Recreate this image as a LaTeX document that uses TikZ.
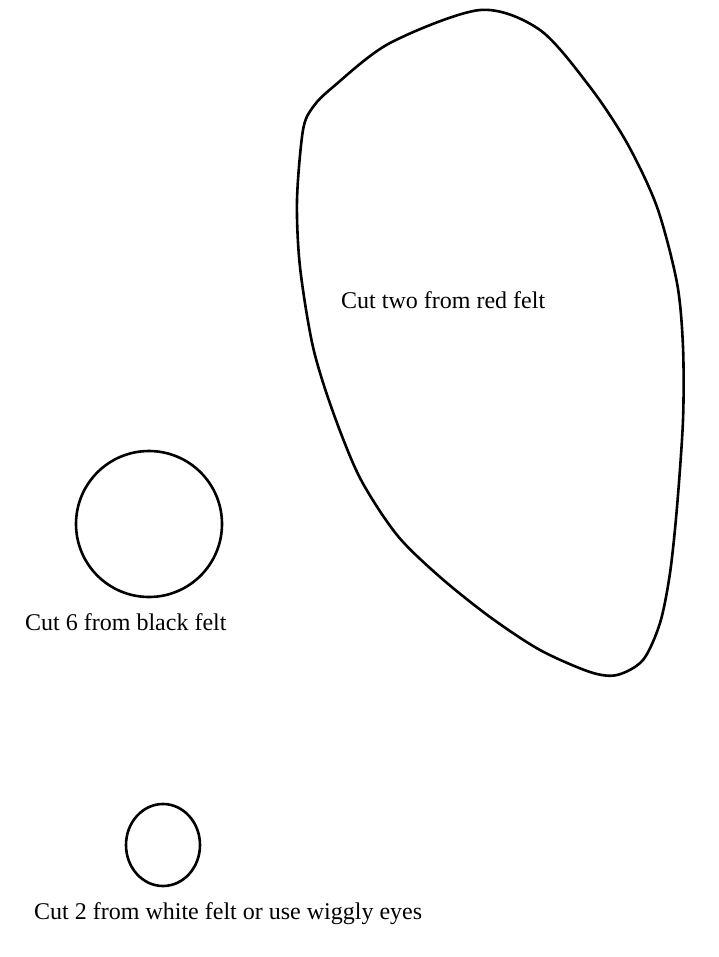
\documentclass[tikz,border=0pt]{standalone}
\usepackage{fontspec}
\setmainfont{Liberation Serif}
\usetikzlibrary{positioning}
\tikzstyle{cutline} = [line width=2.6pt, line join=round]
\tikzstyle{cutnote} = [inner sep=0pt, anchor=base west, font=\fontsize{24}{28}\selectfont]

\begin{document}
\begin{tikzpicture}[x=1pt, y=-1pt]
        \useasboundingbox (0,0) rectangle (718,957);

        % body piece
        \draw[cutline] plot[smooth cycle, tension=0.5] coordinates {
          (480,10) (540,30) (590,87) (627,143) (657,207) (677,283)
          (683,347) (683,420) (677,507) (670,573) (660,623) (643,660)
          (617,675) (590,672) (540,650) (490,617) (440,577) (397,535)
          (360,478) (333,412) (313,347) (300,267) (297,200)
          (303,130) (313,107) (333,87) (390,43)};
        \node[cutnote] (red) at (341,308) {Cut two from red felt};

        % spots
        \draw[cutline] (149,524) circle (73);
        \node[cutnote] (black) at (25,630) {Cut 6 from black felt};

        % eyes
        \draw[cutline] (163,845) ellipse (37 and 41);
        \node[cutnote] (white) at (34,919) {Cut 2 from white felt or use wiggly eyes};
    \end{tikzpicture}
\end{document}
